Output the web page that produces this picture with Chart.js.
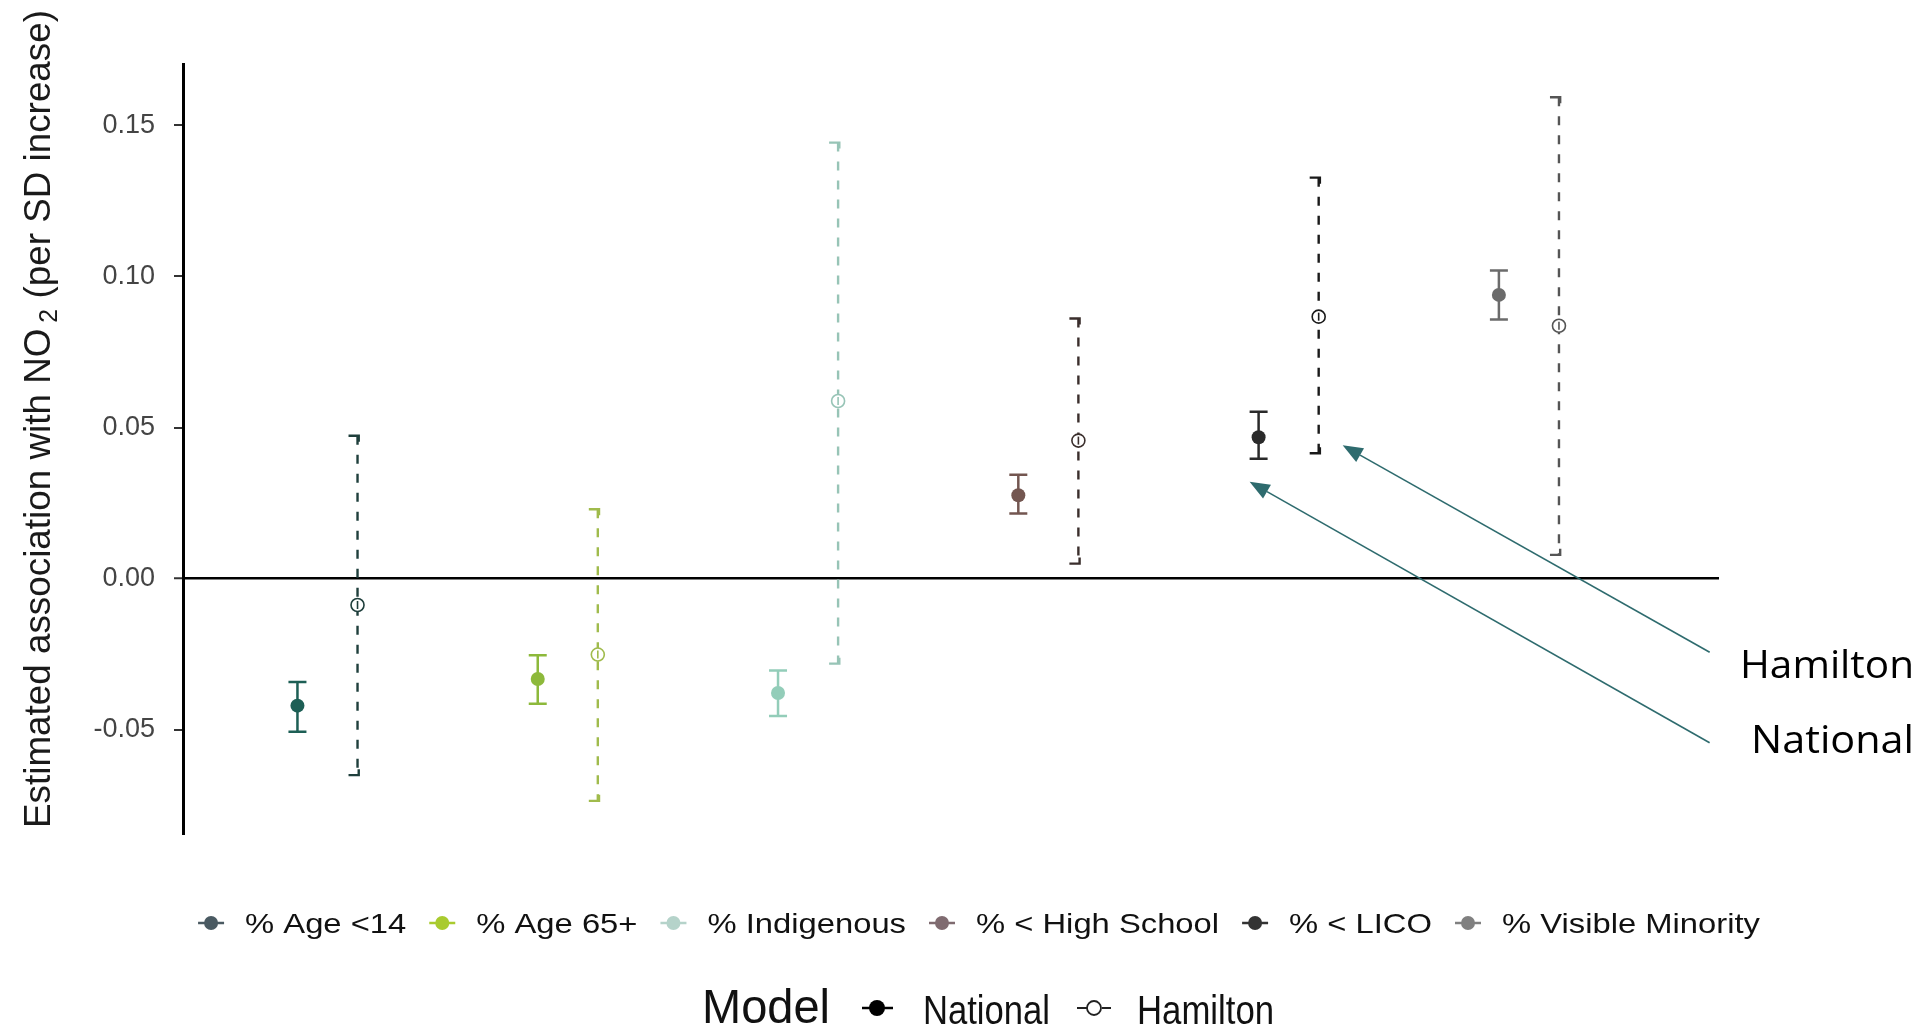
<!DOCTYPE html>
<html>
<head>
<meta charset="utf-8">
<script src="https://cdn.jsdelivr.net/npm/chart.js@4/dist/chart.umd.min.js"></script>
<style>
  html, body { margin: 0; padding: 0; background: #ffffff; overflow: hidden; }
  canvas { display: block; }
</style>
</head>
<body>
<canvas id="c" width="1921" height="1025"></canvas>
<script>
// ---------------- DATA ----------------
const categories = ['% Age <14', '% Age 65+', '% Indigenous', '% < High School', '% < LICO', '% Visible Minority'];
const models = ['National', 'Hamilton'];

const nationalEst  = [-0.0420, -0.0332, -0.0378,  0.0276, 0.0468, 0.0939];
const nationalLow  = [-0.0506, -0.0414, -0.0454,  0.0216, 0.0397, 0.0858];
const nationalHigh = [-0.0342, -0.0253, -0.0304,  0.0344, 0.0552, 0.1020];

const hamiltonEst  = [-0.0087, -0.0251,  0.0588,  0.0457, 0.0867, 0.0837];
const hamiltonLow  = [-0.0650, -0.0735, -0.0281,  0.0050, 0.0415, 0.0079];
const hamiltonHigh = [ 0.0473,  0.0230,  0.1443,  0.0861, 0.1327, 0.1593];

const yTicks = [-0.05, 0.00, 0.05, 0.10, 0.15];
const yTitle = ['Estimated association with NO', '2', ' (per SD increase)'];
const annotationLabels = ['Hamilton', 'National'];

// ---------------- STYLE ----------------
const nationalColors = ['#1d5f55', '#8db93b', '#93cdb9', '#735650', '#2a2a2a', '#6b6b6b'];
const hamiltonColors = ['#1f3f3c', '#a0bb4c', '#97c4b6', '#3a2e2c', '#1a1a1a', '#555555'];
const legendColors   = ['#4a5a62', '#a9cb2f', '#b5d3ca', '#7f6b70', '#333333', '#808080'];
const dodge = 0.125;
const FONT = '"Liberation Sans", Arial, sans-serif';

function drawFitText(ctx, text, x, y, font, targetW, color) {
  ctx.save();
  ctx.font = font;
  ctx.fillStyle = color || '#111';
  ctx.textAlign = 'left';
  ctx.textBaseline = 'alphabetic';
  const w = ctx.measureText(text).width;
  const sx = targetW ? targetW / w : 1;
  ctx.translate(x, y);
  ctx.scale(sx, 1);
  ctx.fillText(text, 0, 0);
  ctx.restore();
}

function arrow(ctx, tx, ty, fx, fy, color) {
  ctx.save();
  ctx.strokeStyle = color; ctx.fillStyle = color; ctx.lineWidth = 1.6;
  const ang = Math.atan2(ty - fy, tx - fx);
  const L = 20, H = 8;
  const bx = tx - L * Math.cos(ang), by = ty - L * Math.sin(ang);
  ctx.beginPath(); ctx.moveTo(fx, fy); ctx.lineTo(bx, by); ctx.stroke();
  ctx.beginPath();
  ctx.moveTo(tx, ty);
  ctx.lineTo(bx + H * Math.sin(ang), by - H * Math.cos(ang));
  ctx.lineTo(bx - H * Math.sin(ang), by + H * Math.cos(ang));
  ctx.closePath(); ctx.fill();
  ctx.restore();
}

const errorBarPlugin = {
  id: 'errbars',
  beforeDatasetsDraw(chart) {
    const { ctx, scales: { x, y } } = chart;
    categories.forEach((c, i) => {
      // National: solid bars with caps
      const px = x.getPixelForValue(i + 1 - dodge);
      const yl = y.getPixelForValue(nationalLow[i]);
      const yh = y.getPixelForValue(nationalHigh[i]);
      ctx.save();
      ctx.strokeStyle = nationalColors[i];
      ctx.lineWidth = 2.5;
      ctx.beginPath();
      ctx.moveTo(px, yl); ctx.lineTo(px, yh);
      ctx.moveTo(px - 9, yl); ctx.lineTo(px + 9, yl);
      ctx.moveTo(px - 9, yh); ctx.lineTo(px + 9, yh);
      ctx.stroke();
      ctx.restore();

      // Hamilton: dashed bars with half caps
      const hx = x.getPixelForValue(i + 1 + dodge);
      const hl = y.getPixelForValue(hamiltonLow[i]);
      const hh = y.getPixelForValue(hamiltonHigh[i]);
      ctx.save();
      ctx.strokeStyle = hamiltonColors[i];
      ctx.lineWidth = 2.4;
      ctx.setLineDash([9, 10]);
      ctx.beginPath();
      ctx.moveTo(hx, hh); ctx.lineTo(hx, hl);
      ctx.stroke();
      ctx.setLineDash([]);
      ctx.beginPath();
      ctx.moveTo(hx - 9, hh); ctx.lineTo(hx + 1.2, hh); ctx.lineTo(hx + 1.2, hh + 6);
      ctx.moveTo(hx - 9, hl); ctx.lineTo(hx + 1.2, hl); ctx.lineTo(hx + 1.2, hl - 6);
      ctx.stroke();
      ctx.restore();
    });
  },
  afterDatasetsDraw(chart) {
    const { ctx, scales: { x, y } } = chart;
    categories.forEach((c, i) => {
      const hx = x.getPixelForValue(i + 1 + dodge);
      const hy = y.getPixelForValue(hamiltonEst[i]);
      ctx.save();
      ctx.strokeStyle = hamiltonColors[i];
      ctx.lineWidth = 1.6;
      ctx.beginPath();
      ctx.moveTo(hx, hy - 4); ctx.lineTo(hx, hy + 4);
      ctx.stroke();
      ctx.restore();
    });
  },
  afterDraw(chart) {
    const { ctx, scales: { x, y } } = chart;

    // ---- y-axis title (rotated, with subscript) ----
    ctx.save();
    ctx.translate(50, 419);
    ctx.rotate(-Math.PI / 2);
    const fMain = '37px ' + FONT, fSub = '25px ' + FONT;
    ctx.font = fMain; const w1 = ctx.measureText(yTitle[0]).width; const w3 = ctx.measureText(yTitle[2]).width;
    ctx.font = fSub; const w2 = ctx.measureText(yTitle[1]).width;
    const gap = 6;
    const total = w1 + gap + w2 + w3;
    ctx.scale(818 / total, 1);
    ctx.fillStyle = '#1a1a1a';
    ctx.textBaseline = 'alphabetic';
    let sx0 = -total / 2;
    ctx.font = fMain; ctx.fillText(yTitle[0], sx0, 0);
    ctx.font = fSub; ctx.fillText(yTitle[1], sx0 + w1 + gap, 7);
    ctx.font = fMain; ctx.fillText(yTitle[2], sx0 + w1 + gap + w2, 0);
    ctx.restore();

    // ---- legend row 1: categories ----
    const lf = '28px ' + FONT, sxl = 1.17;
    ctx.save();
    ctx.font = lf;
    const tws = categories.map(t => ctx.measureText(t).width * sxl);
    ctx.restore();
    const totalW = tws.reduce((a, b) => a + b + 47, 0) + 23 * (categories.length - 1);
    let cx = 979 - totalW / 2;
    categories.forEach((t, i) => {
      const mx = cx + 13, my = 923;
      ctx.save();
      ctx.strokeStyle = legendColors[i]; ctx.fillStyle = legendColors[i];
      ctx.lineWidth = 2.5;
      ctx.beginPath(); ctx.moveTo(mx - 13, my); ctx.lineTo(mx + 13, my); ctx.stroke();
      ctx.beginPath(); ctx.arc(mx, my, 7, 0, Math.PI * 2); ctx.fill();
      ctx.restore();
      drawFitText(ctx, t, cx + 47, 933, lf, tws[i], '#111');
      cx += 47 + tws[i] + 23;
    });

    // ---- legend row 2: model ----
    drawFitText(ctx, 'Model', 702, 1023, '48px ' + FONT, 128, '#111');
    ctx.save();
    ctx.strokeStyle = '#000'; ctx.fillStyle = '#000'; ctx.lineWidth = 2.5;
    ctx.beginPath(); ctx.moveTo(862, 1008); ctx.lineTo(893, 1008); ctx.stroke();
    ctx.beginPath(); ctx.arc(877, 1008, 8, 0, Math.PI * 2); ctx.fill();
    ctx.restore();
    drawFitText(ctx, models[0], 923, 1024, '40px ' + FONT, 127, '#111');
    ctx.save();
    ctx.strokeStyle = '#222'; ctx.lineWidth = 1.8;
    ctx.beginPath(); ctx.moveTo(1077, 1008); ctx.lineTo(1087, 1008); ctx.moveTo(1102, 1008); ctx.lineTo(1111, 1008); ctx.stroke();
    ctx.fillStyle = '#fff';
    ctx.beginPath(); ctx.arc(1094, 1008, 7, 0, Math.PI * 2); ctx.fill(); ctx.stroke();
    ctx.restore();
    drawFitText(ctx, models[1], 1137, 1024, '40px ' + FONT, 137, '#111');

    // ---- annotations with arrows (anchored to the LICO bars) ----
    const teal = '#2e6b6e';
    const hTipX = x.getPixelForValue(5 + dodge) + 24, hTipY = y.getPixelForValue(hamiltonLow[4]) - 8;
    const nTipX = x.getPixelForValue(5 - dodge) - 9, nTipY = y.getPixelForValue(nationalLow[4]) + 23;
    arrow(ctx, hTipX, hTipY, hTipX + 367, hTipY + 207, teal);
    arrow(ctx, nTipX, nTipY, nTipX + 460, nTipY + 261, teal);
    drawFitText(ctx, annotationLabels[0], 1740, 678, '38px "Open Sans", sans-serif', 174, '#000');
    drawFitText(ctx, annotationLabels[1], 1751, 753, '38px "Open Sans", sans-serif', 163, '#000');
  }
};

const ctx = document.getElementById('c').getContext('2d');
new Chart(ctx, {
  type: 'scatter',
  data: {
    datasets: [
      {
        label: models[0],
        data: nationalEst.map((v, i) => ({ x: i + 1 - dodge, y: v })),
        pointRadius: 7,
        pointBackgroundColor: nationalColors,
        pointBorderColor: nationalColors,
        pointBorderWidth: 0,
        showLine: false
      },
      {
        label: models[1],
        data: hamiltonEst.map((v, i) => ({ x: i + 1 + dodge, y: v })),
        pointRadius: 6.5,
        pointBackgroundColor: '#ffffff',
        pointBorderColor: hamiltonColors,
        pointBorderWidth: 1.6,
        showLine: false
      }
    ]
  },
  options: {
    responsive: false,
    devicePixelRatio: 1,
    animation: false,
    layout: { padding: { top: 64, right: 202, bottom: 190, left: 0 } },
    plugins: { legend: { display: false }, tooltip: { enabled: false } },
    scales: {
      x: {
        type: 'linear',
        min: 0.3987,
        max: 6.791,
        display: false
      },
      y: {
        type: 'linear',
        min: -0.0848,
        max: 0.1703,
        afterFit(scale) { scale.width = 183; },
        afterBuildTicks(scale) { scale.ticks = yTicks.map(v => ({ value: v })); },
        ticks: {
          callback: v => v.toFixed(2),
          color: '#444444',
          font: { family: FONT, size: 27 },
          padding: 19
        },
        border: { display: true, color: '#000', width: 3 },
        grid: {
          drawOnChartArea: true,
          drawTicks: true,
          tickLength: 9,
          tickWidth: 2,
          tickColor: '#333',
          color: c => (c.tick && c.tick.value === 0) ? '#000' : 'rgba(0,0,0,0)',
          lineWidth: c => (c.tick && c.tick.value === 0) ? 2.5 : 0
        }
      }
    }
  },
  plugins: [errorBarPlugin]
});
</script>
</body>
</html>
